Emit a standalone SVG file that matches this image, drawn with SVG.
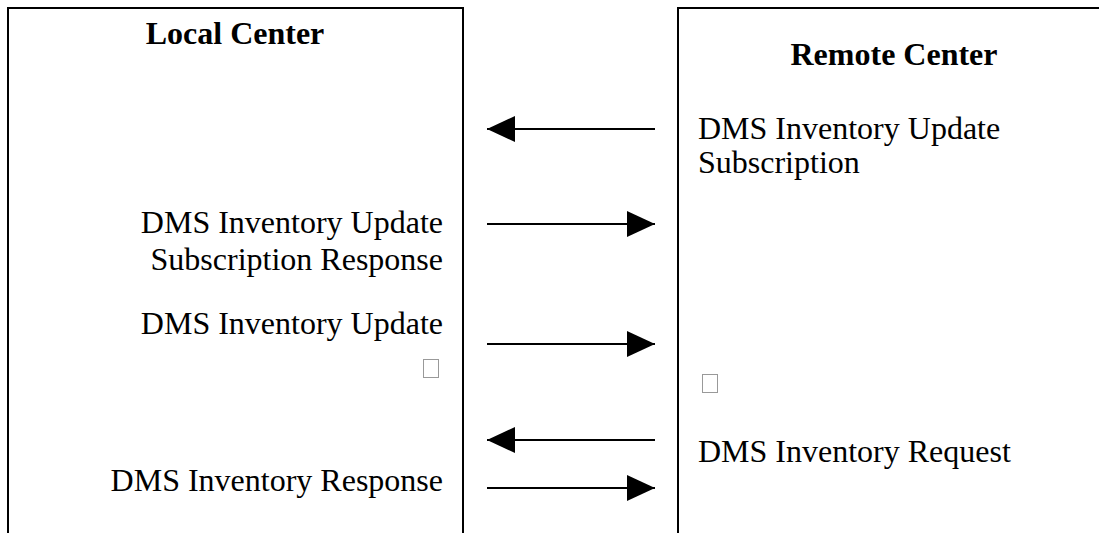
<svg xmlns="http://www.w3.org/2000/svg" width="1099" height="533" viewBox="0 0 1099 533">
<style>
.box{fill:none;stroke:#000;stroke-width:2}
.t{font-family:"Liberation Serif","Times New Roman",serif;font-size:32px;fill:#000}
.h{font-family:"Liberation Serif","Times New Roman",serif;font-size:32px;font-weight:bold;fill:#000}
.ln{stroke:#000;stroke-width:2;fill:none}
.tofu{fill:#fff;stroke:#999;stroke-width:1}
</style>
<defs>
<marker id="ah" viewBox="0 0 28 26" refX="28" refY="13" markerWidth="28" markerHeight="26" markerUnits="userSpaceOnUse" orient="auto">
<path d="M0,0 L28,13 L0,26 Z" fill="#000"/>
</marker>
</defs>
<rect width="1099" height="533" fill="#fff"/>
<g id="local-center">
<path class="box" d="M8,534 V8 H463 V534"/>
<text class="h" x="235" y="44" text-anchor="middle">Local Center</text>
</g>
<g id="remote-center">
<path class="box" d="M678,534 V8 H1100"/>
<text class="h" x="894" y="65" text-anchor="middle">Remote Center</text>
</g>
<g id="labels">
<text class="t" x="698" y="139">DMS Inventory Update</text>
<text class="t" x="698" y="173">Subscription</text>
<text class="t" x="443" y="233" text-anchor="end">DMS Inventory Update</text>
<text class="t" x="443" y="270" text-anchor="end">Subscription Response</text>
<text class="t" x="443" y="334" text-anchor="end">DMS Inventory Update</text>
<rect class="tofu" x="423.5" y="359.5" width="15" height="18"/>
<rect class="tofu" x="702.5" y="374.5" width="15" height="18"/>
<text class="t" x="698" y="462">DMS Inventory Request</text>
<text class="t" x="443" y="491" text-anchor="end">DMS Inventory Response</text>
</g>
<g id="connectors">
<line class="ln" x1="655" y1="129" x2="487" y2="129" marker-end="url(#ah)"/>
<line class="ln" x1="487" y1="224" x2="655" y2="224" marker-end="url(#ah)"/>
<line class="ln" x1="487" y1="344" x2="655" y2="344" marker-end="url(#ah)"/>
<line class="ln" x1="655" y1="440" x2="487" y2="440" marker-end="url(#ah)"/>
<line class="ln" x1="487" y1="488" x2="655" y2="488" marker-end="url(#ah)"/>
</g>
</svg>
